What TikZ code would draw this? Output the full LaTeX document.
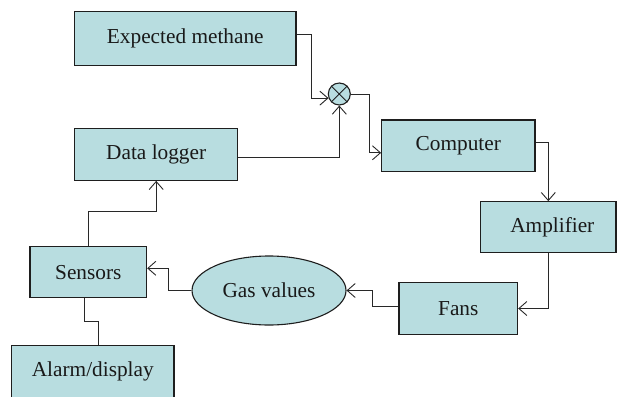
\documentclass[tikz,border=0pt]{standalone}
\usepackage{fontspec}
\setmainfont{Liberation Serif}
\usetikzlibrary{arrows.meta,shapes.geometric,calc}
\definecolor{boxfill}{RGB}{184,221,224}
\definecolor{edge}{RGB}{30,30,30}
\definecolor{wire}{RGB}{40,40,40}
\begin{document}
\begin{tikzpicture}[x=1pt,y=-1pt,
  blk/.style={draw=edge,line width=1.1pt,fill=boxfill,inner sep=0pt,
    minimum width=#1,font=\fontsize{21.3}{25}\selectfont,text=black!90},
  blk/.default=100,
  wireline/.style={draw=wire,line width=0.9pt},
  arr/.style={wireline,-{Straight Barb[length=8pt,width=14pt,line width=0.9pt]}},
]
\useasboundingbox (0,0) rectangle (617,396);
\clip (0,0) rectangle (617,396);
\node[blk=221.3, minimum height=54.4] (em) at (185.3,38.5) {Expected methane};
\node[blk=163, minimum height=52] (dl) at (156.2,154.3) {Data logger};
\node[circle,draw=edge,line width=1.1pt,fill=boxfill,minimum size=22,inner sep=0pt] (sum) at (339.3,94) {};
\draw[edge,line width=0.9pt] (sum.45) -- (sum.225) (sum.135) -- (sum.315);
\node[blk=153.3, minimum height=51.7] (comp) at (458.3,145.8) {Computer};
\node[blk=135.3, minimum height=51] (amp) at (548.3,227.2) {\hspace*{8pt}Amplifier};
\node[blk=118.7, minimum height=51.6] (fans) at (458.3,308.5) {Fans};
\node[ellipse,draw=edge,line width=1.1pt,fill=boxfill,minimum width=154,minimum height=69,inner sep=0pt,
  font=\fontsize{21.3}{25}\selectfont,text=black!90] (gas) at (269,290.5) {Gas values};
\node[blk=116.7, minimum height=51] (sens) at (88.3,272.2) {Sensors};
\node[blk=162.3, minimum height=52] (alarm) at (92.8,371.7) {Alarm/display};

\draw[arr] ([yshift=4.5pt]em.east) -- ++(14.7,0) |- (sum.201);
\draw[arr] (sum.east) -- ++(18.7,0) |- ([yshift=-7pt]comp.west);
\draw[arr] ([yshift=-2.7pt]dl.east) -| (sum.south);
\draw[arr] ([yshift=3.8pt]comp.east) -| (amp.north);
\draw[arr] (amp.south) |- (fans.east);
\draw[arr] ([yshift=1.8pt]fans.west) -- ++(-26.3,0) |- (gas.east);
\draw[arr] (gas.west) -- ++(-23.4,0) |- ([yshift=3.9pt]sens.east);
\draw[arr] (sens.north) -- ++(0,-34.4) -| (dl.south);
\draw[wireline] ([xshift=-4.3pt]sens.south) -- ++(0,23) -| ([xshift=5.5pt]alarm.north);
\end{tikzpicture}
\end{document}
